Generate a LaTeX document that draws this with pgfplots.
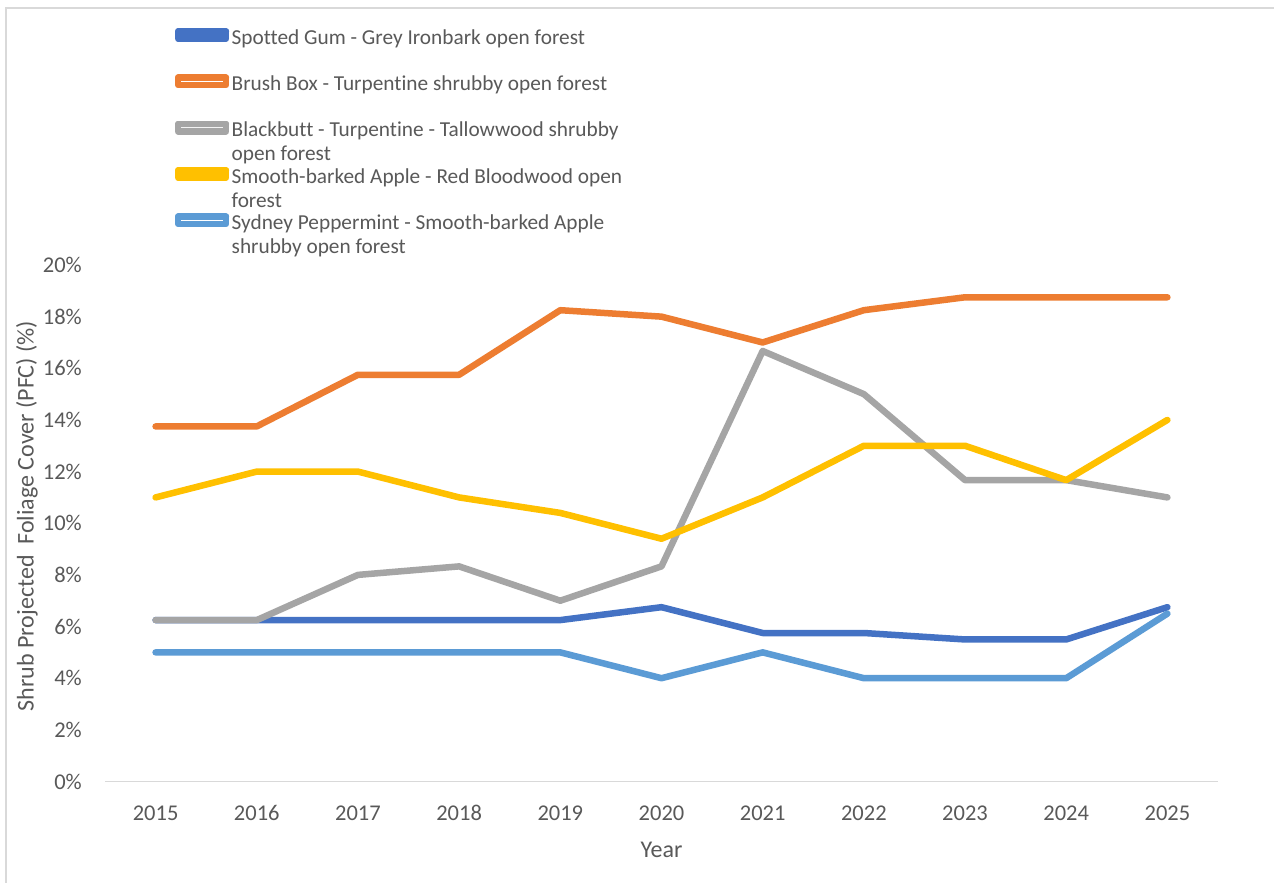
\documentclass[border=0pt]{standalone}
\usepackage{fontspec}
\setmainfont{Carlito}[Ligatures=NoCommon]
\usepackage{pgfplots}
\pgfplotsset{compat=1.18}
\definecolor{sA}{HTML}{4472C4}
\definecolor{sB}{HTML}{ED7D31}
\definecolor{sC}{HTML}{A5A5A5}
\definecolor{sD}{HTML}{FFC000}
\definecolor{sE}{HTML}{5B9BD5}
\definecolor{txt}{HTML}{595959}
\definecolor{axl}{HTML}{D9D9D9}
\begin{document}
\begin{tikzpicture}
\path[use as bounding box, fill=white] (0,0) rectangle (1274pt,883pt);
\draw[axl, line width=2pt] (6pt,0pt) -- (6pt,875pt) -- (1274pt,875pt);
\begin{axis}[
  at={(105pt,101.5pt)}, anchor=south west,
  scale only axis, width=1113pt, height=516.5pt,
  xmin=-0.5, xmax=10.5, ymin=0, ymax=20,
  xtick={0,1,2,3,4,5,6,7,8,9,10},
  xticklabels={2015,2016,2017,2018,2019,2020,2021,2022,2023,2024,2025},
  ytick={0,2,4,6,8,10,12,14,16,18,20},
  yticklabel={\pgfmathprintnumber[assume math mode=true]{\tick}\%},
  axis x line*=bottom, axis y line*=left,
  x axis line style={draw=axl, line width=1.5pt},
  y axis line style={draw=none},
  major tick length=0pt, tick style={draw=none},
  tick label style={font=\fontsize{22.5}{27}\selectfont, text=txt},
  yticklabel style={anchor=east, inner sep=0pt, xshift=-23pt},
  xticklabel style={anchor=north, inner sep=0pt, text height=15pt, text depth=0pt, yshift=-24pt},
  xlabel={Year},
  ylabel={Shrub Projected\ \ Foliage Cover (PFC) (\%)},
  label style={font=\fontsize{24}{28}\selectfont, text=txt},
  xlabel style={at={(axis description cs:0.5,-0.1481)}, anchor=base},
  ylabel style={at={(axis description cs:-0.0642,0.514)}, anchor=base},
  every axis plot/.append style={line width=6.5pt, line join=round, line cap=round},
  no marks,
  legend cell align=left,
  legend style={at={(axis description cs:0.0626,1.4589)}, anchor=north west,
    draw=none, fill=none, inner sep=0pt, row sep=25.25pt, column sep=2.3pt,
    font=\fontsize{21.3}{24}\selectfont, text=txt,
    nodes={inner sep=0pt, text height=16pt, text depth=5pt}},
  legend image code/.code={\fill[#1, draw=none, overlay, rounded corners=3pt] (-3pt,4.3pt) rectangle (51pt,10.3pt);
    \path (0pt,0pt) rectangle (48pt,7.3pt);},
]
\addplot[sA] coordinates {(0,6.25) (1,6.25) (2,6.25) (3,6.25) (4,6.25) (5,6.75) (6,5.75) (7,5.75) (8,5.5) (9,5.5) (10,6.75)};
\addlegendentry{Spotted Gum - Grey Ironbark open forest}
\addplot[sB] coordinates {(0,13.75) (1,13.75) (2,15.75) (3,15.75) (4,18.25) (5,18) (6,17) (7,18.25) (8,18.75) (9,18.75) (10,18.75)};
\addlegendentry{Brush Box - Turpentine shrubby open forest}
\addplot[sC] coordinates {(0,6.25) (1,6.25) (2,8) (3,8.33) (4,7) (5,8.33) (6,16.67) (7,15) (8,11.67) (9,11.67) (10,11)};
\addlegendentry{\begin{tabular}[t]{@{}l@{}}Blackbutt - Turpentine - Tallowwood shrubby\\open forest\end{tabular}}
\addplot[sD] coordinates {(0,11) (1,12) (2,12) (3,11) (4,10.4) (5,9.4) (6,11) (7,13) (8,13) (9,11.67) (10,14)};
\addlegendentry{\begin{tabular}[t]{@{}l@{}}Smooth-barked Apple - Red Bloodwood open\\forest\end{tabular}}
\addplot[sE] coordinates {(0,5) (1,5) (2,5) (3,5) (4,5) (5,4) (6,5) (7,4) (8,4) (9,4) (10,6.5)};
\addlegendentry{\begin{tabular}[t]{@{}l@{}}Sydney Peppermint - Smooth-barked Apple\\shrubby open forest\end{tabular}}
\end{axis}
\end{tikzpicture}
\end{document}
